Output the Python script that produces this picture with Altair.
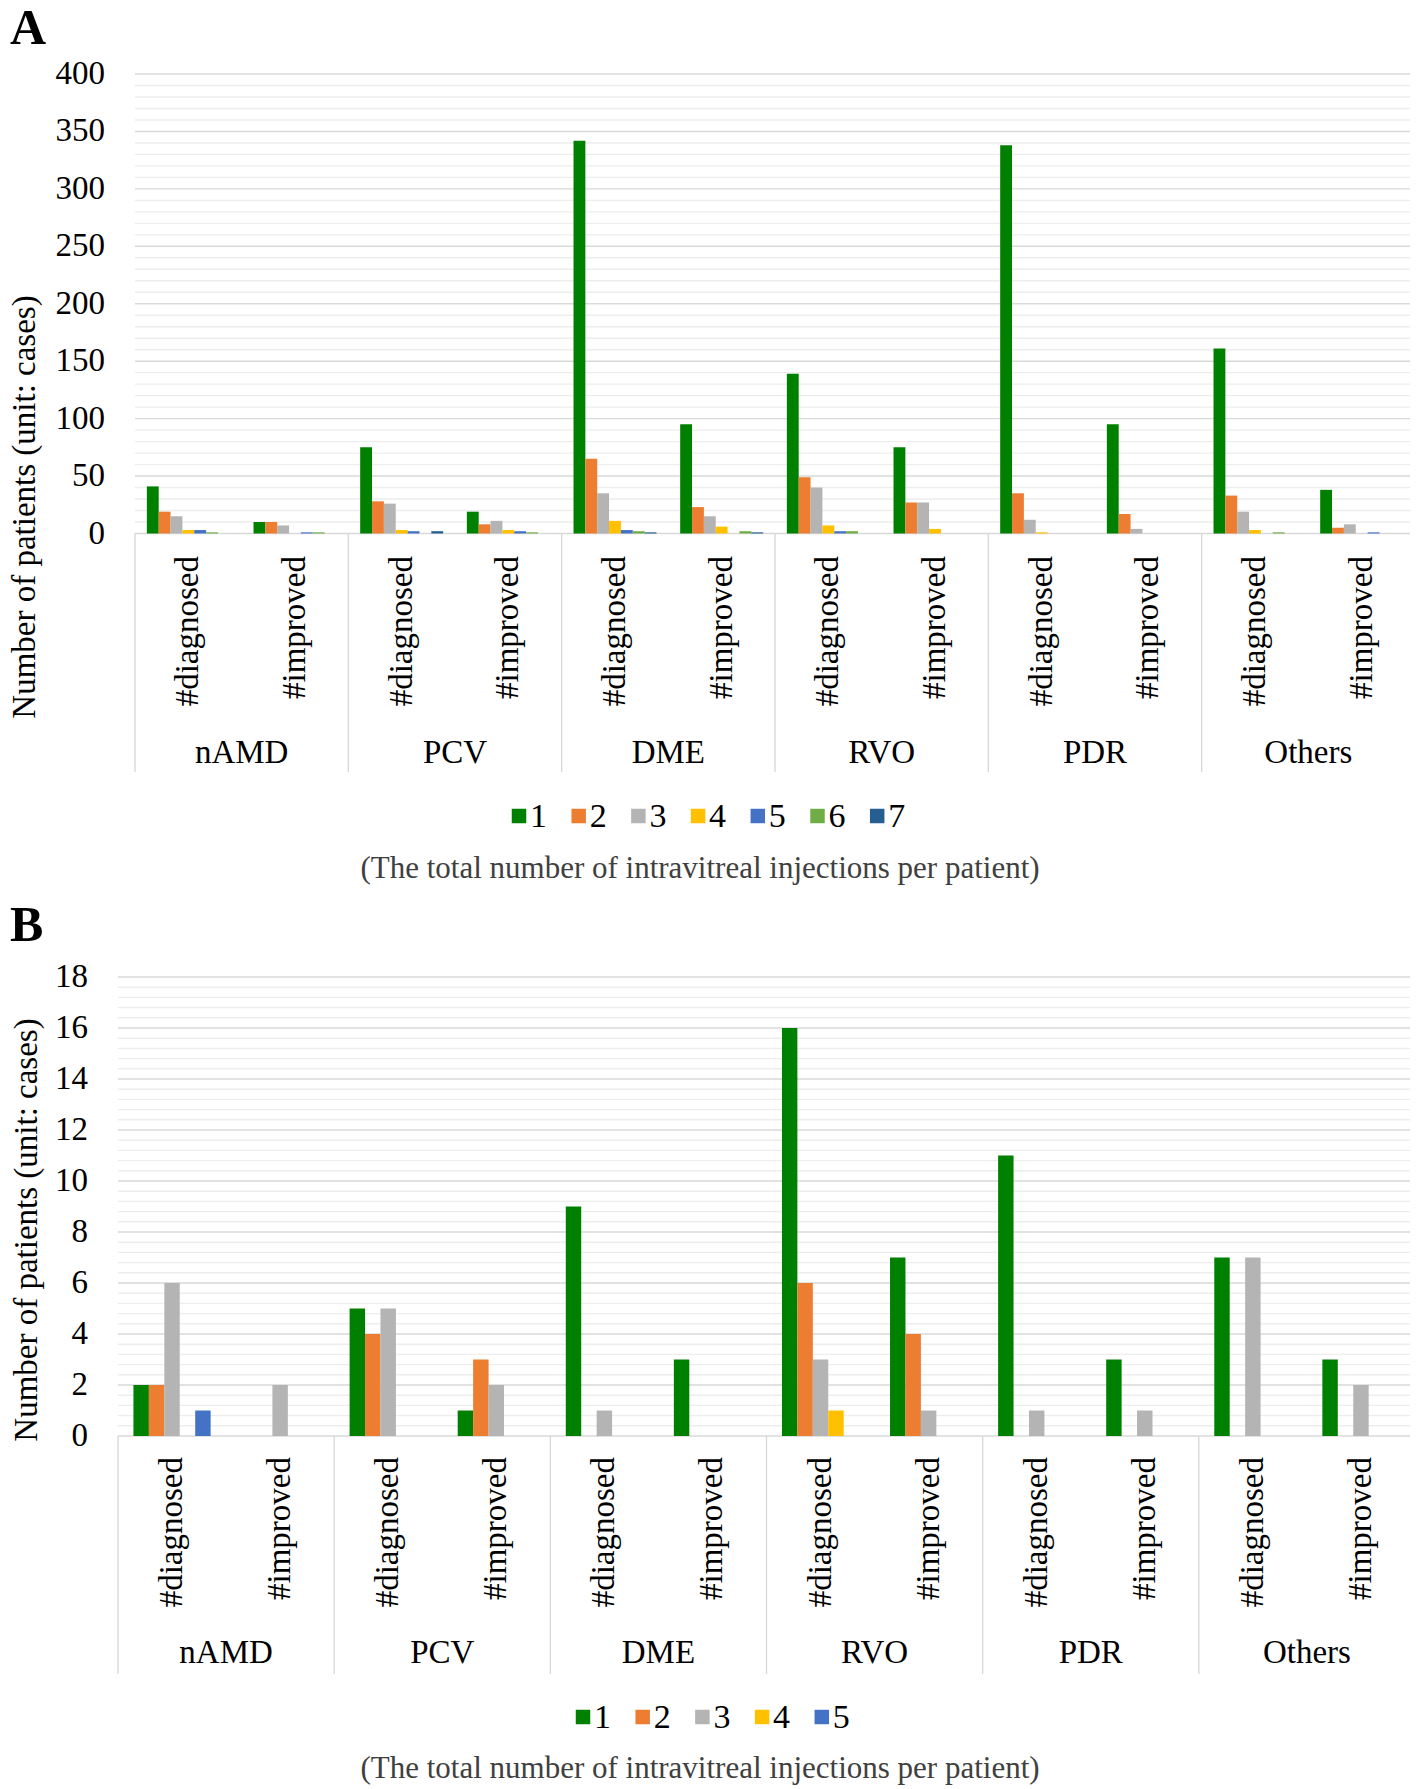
import altair as alt
import pandas as pd

FONT = "Liberation Serif"

categories = ["nAMD", "PCV", "DME", "RVO", "PDR", "Others"]
groups = ["#diagnosed", "#improved"]

# Panel A: number of patients by total injections (1..7);
# order of values: nAMD diag, nAMD impr, PCV diag, PCV impr, DME ..., RVO ..., PDR ..., Others ...
a_series = ["1", "2", "3", "4", "5", "6", "7"]
a_colors = ["#008000", "#ED7D31", "#B4B4B4", "#FFC000", "#4472C4", "#70AD47", "#255E91"]
a_inj1 = [41, 10, 75, 19, 342, 95, 139, 75, 338, 95, 161, 38]
a_inj2 = [19, 10, 28, 8, 65, 23, 49, 27, 35, 17, 33, 5]
a_inj3 = [15, 7, 26, 11, 35, 15, 40, 27, 12, 4, 19, 8]
a_inj4 = [3, 0, 3, 3, 11, 6, 7, 4, 1, 0, 3, 0]
a_inj5 = [3, 1, 2, 2, 3, 0, 2, 0, 0, 0, 0, 1]
a_inj6 = [1, 1, 0, 1, 2, 2, 2, 0, 0, 0, 1, 0]
a_inj7 = [0, 0, 2, 0, 1, 1, 0, 0, 0, 0, 0, 0]
a_ticks = [0, 50, 100, 150, 200, 250, 300, 350, 400]
a_grid = list(range(0, 401, 10))

# Panel B
b_series = ["1", "2", "3", "4", "5"]
b_colors = ["#008000", "#ED7D31", "#B4B4B4", "#FFC000", "#4472C4"]
b_inj1 = [2, 0, 5, 1, 9, 3, 16, 7, 11, 3, 7, 3]
b_inj2 = [2, 0, 4, 3, 0, 0, 6, 4, 0, 0, 0, 0]
b_inj3 = [6, 2, 5, 2, 1, 0, 3, 1, 1, 1, 7, 2]
b_inj4 = [0, 0, 0, 0, 0, 0, 1, 0, 0, 0, 0, 0]
b_inj5 = [1, 0, 0, 0, 0, 0, 0, 0, 0, 0, 0, 0]
b_ticks = [0, 2, 4, 6, 8, 10, 12, 14, 16, 18]
b_grid = [round(i * 0.4, 1) for i in range(46)]

y_title = "Number of patients (unit: cases)"
subtitle = "(The total number of intravitreal injections per patient)"


def panel(tag, letter, series, colors, values, ticks, grid, major_step, ymax, L):
    keys = [f"{tag}|{c}|{g}" for c in categories for g in groups]
    rows = []
    for si, s in enumerate(series):
        for ki, k in enumerate(keys):
            rows.append({"key": k, "s": s, "v": values[si][ki]})
    df = pd.DataFrame(rows)

    xs = alt.Scale(domain=keys, range=[L["x0"], L["x1"]], paddingInner=0, paddingOuter=0)
    ys = alt.Scale(domain=[0, ymax], range=[L["yb"], L["yt"]], nice=False, zero=True)
    half_band = (L["x1"] - L["x0"]) / len(keys) / 2

    gdf = pd.DataFrame({"g": grid})
    gdf["major"] = [abs(g / major_step - round(g / major_step)) < 1e-6 for g in grid]

    layers = []
    for is_major, col in [(False, "#EDEDED"), (True, "#D9D9D9")]:
        layers.append(
            alt.Chart(gdf[gdf["major"] == is_major])
            .mark_rule(color=col, strokeWidth=1.4)
            .encode(
                y=alt.Y("g:Q", scale=ys, axis=None),
                x=alt.value(L["x0"]),
                x2=alt.value(L["x1"]),
            )
        )

    layers.append(
        alt.Chart(df)
        .mark_bar()
        .encode(
            x=alt.X("key:N", scale=xs, axis=None),
            xOffset=alt.XOffset("s:N", scale=alt.Scale(domain=series, paddingInner=0, paddingOuter=1)),
            y=alt.Y("v:Q", scale=ys, axis=None),
            color=alt.Color("s:N", scale=alt.Scale(domain=series, range=colors), legend=None),
        )
    )

    # y tick labels
    layers.append(
        alt.Chart(pd.DataFrame({"t": ticks}))
        .mark_text(font=FONT, fontSize=33, align="right", baseline="middle", color="#000000")
        .encode(y=alt.Y("t:Q", scale=ys, axis=None), x=alt.value(L["tickx"]), text=alt.Text("t:Q"))
    )

    # category boundaries
    diag_keys = [k for k in keys if k.endswith("#diagnosed")]
    layers.append(
        alt.Chart(pd.DataFrame({"key": diag_keys}))
        .mark_rule(color="#D9D9D9", strokeWidth=1.4)
        .encode(
            x=alt.X("key:N", scale=xs, axis=None, bandPosition=0),
            y=alt.value(L["yb"]),
            y2=alt.value(L["ybot"]),
        )
    )
    layers.append(
        alt.Chart(pd.DataFrame({"key": [keys[-1]]}))
        .mark_rule(color="#D9D9D9", strokeWidth=1.4)
        .encode(
            x=alt.X("key:N", scale=xs, axis=None, bandPosition=1),
            y=alt.value(L["yb"]),
            y2=alt.value(L["ybot"]),
        )
    )

    # group labels (rotated)
    layers.append(
        alt.Chart(pd.DataFrame({"key": keys, "lab": [k.split("|")[2] for k in keys]}))
        .mark_text(font=FONT, fontSize=33, angle=270, align="right", baseline="middle", color="#000000")
        .encode(x=alt.X("key:N", scale=xs, axis=None), y=alt.value(L["suby"]), text="lab:N")
    )

    # category labels (centred between the two group bands)
    layers.append(
        alt.Chart(pd.DataFrame({"key": diag_keys, "cat": categories}))
        .mark_text(font=FONT, fontSize=33, align="center", baseline="middle", color="#000000", dx=half_band)
        .encode(x=alt.X("key:N", scale=xs, axis=None), y=alt.value(L["caty"]), text="cat:N")
    )

    # legend
    lx = alt.Scale(type="point", domain=series, range=[L["lx0"], L["lx0"] + L["lstep"] * (len(series) - 1)], padding=0)
    ldf = pd.DataFrame({"s": series})
    layers.append(
        alt.Chart(ldf)
        .mark_square(size=210, opacity=1)
        .encode(
            x=alt.X("s:N", scale=lx, axis=None),
            y=alt.value(L["ly"]),
            color=alt.Color("s:N", scale=alt.Scale(domain=series, range=colors), legend=None),
        )
    )
    layers.append(
        alt.Chart(ldf)
        .mark_text(font=FONT, fontSize=34, align="left", baseline="middle", dx=11, color="#000000")
        .encode(x=alt.X("s:N", scale=lx, axis=None), y=alt.value(L["ly"] + 1), text="s:N")
    )

    # subtitle
    layers.append(
        alt.Chart(pd.DataFrame({"t": [subtitle]}))
        .mark_text(font=FONT, fontSize=31, align="center", baseline="middle", color="#404040")
        .encode(x=alt.value(L["subx"]), y=alt.value(L["subt_y"]), text="t:N")
    )

    # panel letter
    layers.append(
        alt.Chart(pd.DataFrame({"t": [letter]}))
        .mark_text(font=FONT, fontSize=50, fontWeight="bold", align="left", baseline="alphabetic", color="#000000")
        .encode(x=alt.value(2), y=alt.value(L["lety"]), text="t:N")
    )

    # y title
    layers.append(
        alt.Chart(pd.DataFrame({"t": [y_title]}))
        .mark_text(font=FONT, fontSize=33, angle=270, align="center", baseline="middle", color="#000000")
        .encode(x=alt.value(L["ytx"]), y=alt.value(L["yty"]), text="t:N")
    )
    return layers


LA = dict(x0=127, x1=1407, yb=525.5, yt=66, tickx=97, ybot=764, suby=548, caty=745,
          lx0=511, lstep=59.7, ly=808, subx=692, subt_y=861, lety=36, ytx=17, yty=499)
LB = dict(x0=110, x1=1407, yb=1428, yt=969, tickx=80, ybot=1666, suby=1449, caty=1645,
          lx0=575, lstep=59.7, ly=1709, subx=692, subt_y=1761, lety=933, ytx=19, yty=1222)

layers = panel("A", "A", a_series, a_colors,
               [a_inj1, a_inj2, a_inj3, a_inj4, a_inj5, a_inj6, a_inj7],
               a_ticks, a_grid, 50, 400, LA)
layers += panel("B", "B", b_series, b_colors,
                [b_inj1, b_inj2, b_inj3, b_inj4, b_inj5],
                b_ticks, b_grid, 2, 18, LB)

chart = (
    alt.layer(*layers)
    .resolve_scale(x="independent", y="independent", color="independent", xOffset="independent")
    .properties(width=1402, height=1781, autosize=alt.AutoSizeParams(type="none"), padding=0, background="white")
    .configure_view(stroke=None)
)

chart.save("out.html", embed_options={"renderer": "svg", "actions": False})
